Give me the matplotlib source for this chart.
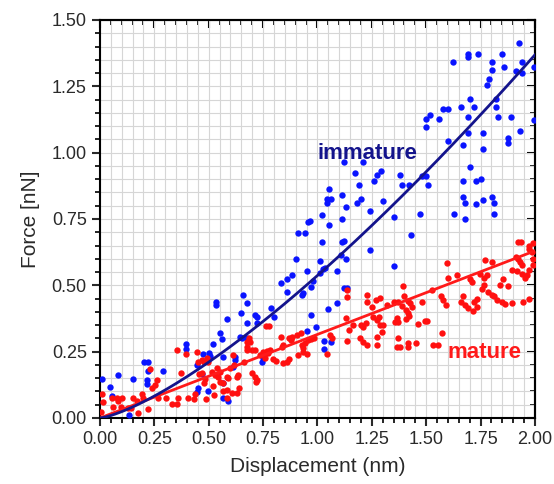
import matplotlib.pyplot as plt
from matplotlib.ticker import MultipleLocator, FormatStrFormatter
import numpy as np

plt.rcParams['font.family'] = ['Liberation Sans', 'DejaVu Sans']

# immature (blue) points
immature_x = [0.011, 0.046, 0.054, 0.084, 0.133, 0.153, 0.204, 0.222, 0.222, 0.215, 0.215, 0.291,
              0.394, 0.394, 0.444, 0.452, 0.444, 0.475, 0.47, 0.503, 0.506, 0.495, 0.532, 0.532,
              0.521, 0.552, 0.562, 0.584, 0.567, 0.564, 0.564, 0.59, 0.613, 0.62, 0.62, 0.644,
              0.656, 0.674, 0.648, 0.674, 0.713, 0.724, 0.724, 0.651, 0.674, 0.744, 0.748, 0.785,
              0.802, 0.831, 0.858, 0.881, 0.861, 0.901, 0.912, 0.943, 0.927, 0.932, 0.95, 0.97,
              0.981, 0.97, 0.953, 0.993, 1.011, 1.024, 1.011, 1.035, 1.019, 1.054, 1.05, 1.03,
              1.061, 1.03, 1.091, 1.091, 1.111, 1.122, 1.108, 1.131, 1.122, 1.137, 1.241,
              1.172, 1.192, 1.272, 1.29, 1.261, 1.053, 1.042, 1.061, 1.045, 1.111, 1.131, 1.18,
              1.198, 1.302, 1.241, 1.022, 0.958, 0.966, 1.114, 1.124, 1.211, 1.43, 1.352,
              1.928, 1.85, 1.739, 1.69, 1.69, 1.621, 1.801, 1.801, 1.857, 1.939, 1.939, 1.911,
              1.995, 1.789, 1.781, 1.699, 1.821, 1.821, 1.66, 1.721, 1.579, 1.598, 1.517, 1.499,
              1.56, 1.499, 1.69, 1.832, 1.89, 1.995, 1.69, 1.759, 1.929, 1.598, 1.667, 1.877,
              1.877, 1.759, 1.699, 1.379, 1.39, 1.421, 1.509, 1.479, 1.499, 1.671, 1.729, 1.752,
              1.671, 1.678, 1.729, 1.759, 1.801, 1.812, 1.812, 1.678, 1.629, 1.471, 1.352]
immature_y = [0.147, 0.116, 0.081, 0.162, 0.011, 0.147, 0.21, 0.21, 0.178, 0.143, 0.127, 0.178,
              0.279, 0.26, 0.2, 0.112, 0.099, 0.24, 0.165, 0.246, 0.234, 0.103, 0.438, 0.426,
              0.278, 0.319, 0.298, 0.373, 0.231, 0.131, 0.074, 0.065, 0.193, 0.23, 0.22, 0.306,
              0.464, 0.432, 0.394, 0.357, 0.388, 0.382, 0.357, 0.3, 0.3, 0.212, 0.225, 0.413,
              0.382, 0.507, 0.524, 0.539, 0.476, 0.599, 0.699, 0.699, 0.464, 0.47, 0.554, 0.495,
              0.516, 0.388, 0.328, 0.344, 0.592, 0.56, 0.545, 0.566, 0.662, 0.727, 0.41, 0.291,
              0.285, 0.26, 0.432, 0.554, 0.662, 0.668, 0.614, 0.599, 0.489, 0.491, 0.633,
              0.922, 0.877, 0.914, 0.929, 0.894, 0.862, 0.824, 0.824, 0.811, 0.84, 0.796, 0.809,
              0.824, 0.818, 0.78, 0.765, 0.74, 0.744, 0.75, 0.966, 0.966, 0.69, 0.574,
              1.412, 1.372, 1.372, 1.372, 1.36, 1.343, 1.343, 1.312, 1.322, 1.343, 1.299, 1.308,
              1.322, 1.276, 1.254, 1.201, 1.201, 1.171, 1.171, 1.171, 1.163, 1.163, 1.142, 1.125,
              1.125, 1.095, 1.133, 1.133, 1.133, 1.123, 1.073, 1.073, 1.082, 1.045, 1.029, 1.054,
              1.037, 1.014, 0.947, 0.916, 0.878, 0.878, 0.878, 0.912, 0.912, 0.893, 0.893, 0.9,
              0.834, 0.812, 0.806, 0.82, 0.834, 0.812, 0.768, 0.75, 0.768, 0.768, 0.759]

# mature (red) points
mature_x = [0.008, 0.015, 0.005, 0.054, 0.061, 0.077, 0.084, 0.1, 0.097, 0.13, 0.143, 0.153,
            0.169, 0.173, 0.192, 0.199, 0.219, 0.241, 0.261, 0.253, 0.268, 0.23, 0.303, 0.33,
            0.352, 0.36, 0.352, 0.372, 0.394, 0.403, 0.434, 0.437, 0.444, 0.449, 0.457, 0.47,
            0.48, 0.483, 0.487, 0.467, 0.48, 0.49, 0.498, 0.516, 0.529, 0.521, 0.526, 0.536,
            0.552, 0.544, 0.552, 0.567, 0.582, 0.59, 0.567, 0.582, 0.582, 0.605, 0.628, 0.598,
            0.618, 0.628, 0.636, 0.639, 0.613, 0.664,
            0.697, 0.713, 0.72, 0.717, 0.677, 0.69, 0.674, 0.677, 0.697, 0.713, 0.687, 0.748,
            0.766, 0.774, 0.782, 0.754, 0.759, 0.736, 0.763, 0.778, 0.794, 0.809, 0.831, 0.835,
            0.843, 0.871, 0.877, 0.881, 0.843, 0.858, 0.871, 0.912, 0.907, 0.924, 0.927, 0.943,
            0.935, 0.932, 0.958, 0.969, 0.984, 0.95, 1.042, 1.058, 1.065, 1.137, 1.137, 1.131,
            1.146, 1.161, 1.137, 1.198, 1.211, 1.223, 1.195, 1.211, 1.226, 1.226, 1.226, 1.249,
            1.257, 1.272, 1.284, 1.287, 1.295, 1.303, 1.269, 1.287, 1.318, 1.272, 1.272,
            1.353, 1.369, 1.364, 1.356, 1.372, 1.395, 1.4, 1.405, 1.414, 1.405, 1.421, 1.387,
            1.418, 1.425, 1.436, 1.369, 1.364, 1.379, 1.414, 1.418, 1.451, 1.46, 1.494, 1.502,
            1.479, 1.525, 1.533, 1.552, 1.574, 1.594, 1.568, 1.579, 1.589, 1.602, 1.64, 1.67,
            1.659, 1.678, 1.69, 1.716, 1.732, 1.721, 1.732, 1.701, 1.709, 1.747, 1.755, 1.767,
            1.767, 1.778, 1.77, 1.804, 1.785, 1.801, 1.813, 1.824, 1.839, 1.854, 1.877, 1.849,
            1.862, 1.893, 1.893, 1.913, 1.923, 1.931, 1.939, 1.915, 1.939, 1.954, 1.962, 1.92,
            1.936, 1.973, 1.993, 1.973, 1.985, 1.993, 1.993, 1.943, 1.973, 1.974]
mature_y = [0.09, 0.061, 0.023, 0.074, 0.042, 0.075, 0.064, 0.074, 0.042, 0.039, 0.039, 0.075,
            0.064, 0.017, 0.09, 0.074, 0.033, 0.112, 0.143, 0.124, 0.074, 0.185, 0.075, 0.054,
            0.054, 0.074, 0.255, 0.168, 0.243, 0.074, 0.071, 0.09, 0.25, 0.212, 0.165, 0.168,
            0.13, 0.147, 0.071, 0.218, 0.212, 0.225, 0.212, 0.175, 0.162, 0.119, 0.087, 0.187,
            0.175, 0.156, 0.137, 0.131, 0.156, 0.149, 0.1, 0.106, 0.074, 0.093, 0.093, 0.187,
            0.2, 0.156, 0.162, 0.112, 0.237, 0.212,
            0.168, 0.156, 0.143, 0.137, 0.285, 0.288, 0.268, 0.256, 0.256, 0.256, 0.3, 0.25,
            0.252, 0.246, 0.256, 0.237, 0.227, 0.237, 0.348, 0.345, 0.222, 0.215, 0.306, 0.269,
            0.275, 0.3, 0.294, 0.306, 0.206, 0.212, 0.221, 0.237, 0.313, 0.319, 0.275, 0.281,
            0.262, 0.25, 0.294, 0.298, 0.3, 0.243, 0.243, 0.313, 0.3, 0.483, 0.457, 0.378,
            0.331, 0.35, 0.291, 0.35, 0.344, 0.357, 0.302, 0.285, 0.275, 0.465, 0.438, 0.42,
            0.382, 0.37, 0.382, 0.35, 0.325, 0.35, 0.444, 0.451, 0.426, 0.306, 0.275,
            0.436, 0.436, 0.376, 0.361, 0.361, 0.499, 0.458, 0.407, 0.394, 0.373, 0.386, 0.423,
            0.441, 0.432, 0.419, 0.3, 0.269, 0.269, 0.281, 0.269, 0.281, 0.356, 0.365, 0.366,
            0.436, 0.482, 0.275, 0.275, 0.319, 0.583, 0.458, 0.445, 0.426, 0.529, 0.539, 0.458,
            0.436, 0.426, 0.413, 0.403, 0.419, 0.438, 0.448, 0.524, 0.511, 0.541, 0.488, 0.501,
            0.529, 0.539, 0.595, 0.586, 0.476, 0.463, 0.458, 0.445, 0.503, 0.524, 0.499, 0.436,
            0.428, 0.432, 0.557, 0.608, 0.601, 0.589, 0.576, 0.553, 0.541, 0.529, 0.539, 0.662,
            0.662, 0.649, 0.658, 0.636, 0.624, 0.601, 0.576, 0.438, 0.448, 0.557]

# fitted curves F = a * d^b
immature_fit = (0.537, 1.35)
mature_fit = (0.315, 1.0)

fig = plt.figure(figsize=(5.54, 4.84), dpi=100)
ax = fig.add_axes([0.1805, 0.1364, 0.7852, 0.8223])

ax.scatter(immature_x, immature_y, s=21, color='#0a14ff', linewidths=0, zorder=3)
ax.scatter(mature_x, mature_y, s=21, color='#ff1010', linewidths=0, zorder=3)

xs = np.linspace(0, 2, 200)
ax.plot(xs, mature_fit[0] * xs ** mature_fit[1], color='#ff1a1a', lw=2, zorder=4)
ax.plot(xs, immature_fit[0] * xs ** immature_fit[1], color='#14148c', lw=2, zorder=5)

ax.text(1.0, 0.995, 'immature', color='#14148c', fontsize=16, fontweight='bold',
        ha='left', va='center', zorder=6)
ax.text(1.598, 0.248, 'mature', color='#ff1a1a', fontsize=16, fontweight='bold',
        ha='left', va='center', zorder=6)

ax.set_xlim(0, 2.0)
ax.set_ylim(0, 1.5)
for axis in (ax.xaxis, ax.yaxis):
    axis.set_major_locator(MultipleLocator(0.25))
    axis.set_minor_locator(MultipleLocator(0.05))
    axis.set_major_formatter(FormatStrFormatter('%.2f'))
ax.grid(True, which='both', color='#d6d6d6', lw=0.8, zorder=0)
ax.set_axisbelow(True)

ax.tick_params(which='major', direction='out', length=6, width=1.5, labelsize=13, colors='#2a2a2a')
ax.tick_params(which='minor', direction='out', length=3.5, width=1.2)
for sp in ax.spines.values():
    sp.set_linewidth(1.5)

# mirror ticks pointing inward on top and right
top = ax.secondary_xaxis('top')
right = ax.secondary_yaxis('right')
for sec, axis in ((top, top.xaxis), (right, right.yaxis)):
    axis.set_major_locator(MultipleLocator(0.25))
    axis.set_minor_locator(MultipleLocator(0.05))
    sec.tick_params(which='major', direction='in', length=6, width=1.5, labelsize=0)
    sec.tick_params(which='minor', direction='in', length=3.5, width=1.2)
    axis.set_major_formatter(plt.NullFormatter())
    sec.spines[:].set_linewidth(1.5)

ax.set_xlabel('Displacement (nm)', fontsize=15, color='#2a2a2a', labelpad=6)
ax.set_ylabel('Force [nN]', fontsize=15, color='#2a2a2a', labelpad=8)

fig.savefig('out.png', dpi=100)
